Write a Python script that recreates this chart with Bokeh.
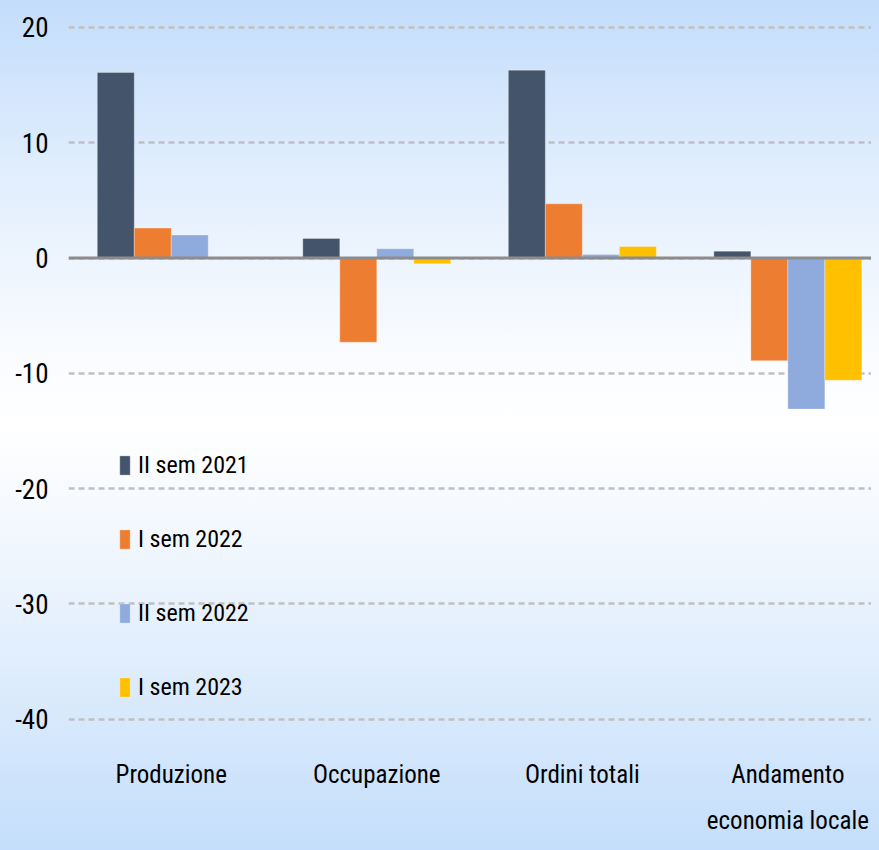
from bokeh.plotting import figure
from bokeh.models import (ColumnDataSource, Range1d, FixedTicker, Span, Legend, LegendItem,
                          GlobalInlineStyleSheet)
from bokeh.transform import dodge
from bokeh.embed import file_html
from bokeh.resources import INLINE

categories = ["Produzione", "Occupazione", "Ordini totali", "Andamento\neconomia locale"]
series_names = ["II sem 2021", "I sem 2022", "II sem 2022", "I sem 2023"]
s_2021_2 = [16.1, 1.7, 16.3, 0.6]
s_2022_1 = [2.6, -7.3, 4.7, -8.9]
s_2022_2 = [2.0, 0.8, 0.3, -13.1]
s_2023_1 = [-0.1, -0.5, 1.0, -10.6]
colors = ["#44546a", "#ed7d31", "#8faadc", "#ffc000"]
y_ticks = [-40, -30, -20, -10, 0, 10, 20]
y_tick_labels = ["-40", "-30", "-20", "-10", "0", "10", "20"]

FONT = "Roboto Condensed, Liberation Sans Narrow, Lato, sans-serif"

xs = [i + 0.5 for i in range(len(categories))]
source = ColumnDataSource(dict(x=xs, a=s_2021_2, b=s_2022_1, c=s_2022_2, d=s_2023_1))

p = figure(width=871, height=842, output_backend="svg", toolbar_location=None,
           x_range=Range1d(0, 3.907), y_range=Range1d(-41.5, 22.34),
           min_border_left=68, min_border_right=0, min_border_top=0, min_border_bottom=106)

p.background_fill_alpha = 0
p.border_fill_alpha = 0
p.outline_line_color = None
p.stylesheets = [GlobalInlineStyleSheet(css=(
    "html { min-height: 100%; background: linear-gradient(to bottom, #c3ddfb 0%, #e3effd 22%, "
    "#fafcff 42%, #ffffff 50%, #f1f7fe 64%, #c4defb 100%); }"
    "body { background: transparent; }"))]

w = 0.18
cols = ["a", "b", "c", "d"]
offsets = [-1.5 * w, -0.5 * w, 0.5 * w, 1.5 * w]
renderers = []
for col, off, colr in zip(cols, offsets, colors):
    r = p.vbar(x=dodge("x", off, range=p.x_range), top=col, bottom=0, width=w, source=source,
               fill_color=colr, line_color="white", line_alpha=0.3, line_width=1)
    renderers.append(r)

p.add_layout(Span(location=0, dimension="width", line_color="#8c8c8c", line_width=3))

# y axis
p.yaxis.ticker = FixedTicker(ticks=y_ticks)
p.yaxis.major_label_overrides = {t: l for t, l in zip(y_ticks, y_tick_labels)}
p.yaxis.axis_line_color = None
p.yaxis.major_tick_line_color = None
p.yaxis.minor_tick_line_color = None
p.yaxis.major_tick_out = 0
p.yaxis.major_label_standoff = 20
p.yaxis.major_label_text_font = FONT
p.yaxis.major_label_text_font_size = "27px"
p.yaxis.major_label_text_color = "#000000"

# x axis
p.xaxis.ticker = FixedTicker(ticks=xs)
p.xaxis.major_label_overrides = {x: c for x, c in zip(xs, categories)}
p.xaxis.axis_line_color = None
p.xaxis.major_tick_line_color = None
p.xaxis.minor_tick_line_color = None
p.xaxis.major_tick_out = 0
p.xaxis.major_label_standoff = 23
p.xaxis.major_label_text_font = FONT
p.xaxis.major_label_text_font_size = "25px"
p.xaxis.major_label_text_color = "#000000"
p.xaxis.major_label_text_line_height = 1.6

p.xgrid.visible = False
p.ygrid.grid_line_color = "#c0c0c0"
p.ygrid.grid_line_width = 2.5
p.ygrid.grid_line_dash = "6 4"

legend = Legend(items=[LegendItem(label=n, renderers=[r]) for n, r in zip(series_names, renderers)],
                location=(50, 35))
legend.label_text_font = FONT
legend.label_text_font_size = "24px"
legend.label_text_color = "#000000"
legend.glyph_width = 13
legend.glyph_height = 24
legend.label_standoff = 7
legend.spacing = 46
legend.padding = 0
legend.margin = 0
legend.border_line_color = None
legend.background_fill_alpha = 0
p.add_layout(legend, "center")

open("out.html", "w").write(file_html(p, INLINE))
